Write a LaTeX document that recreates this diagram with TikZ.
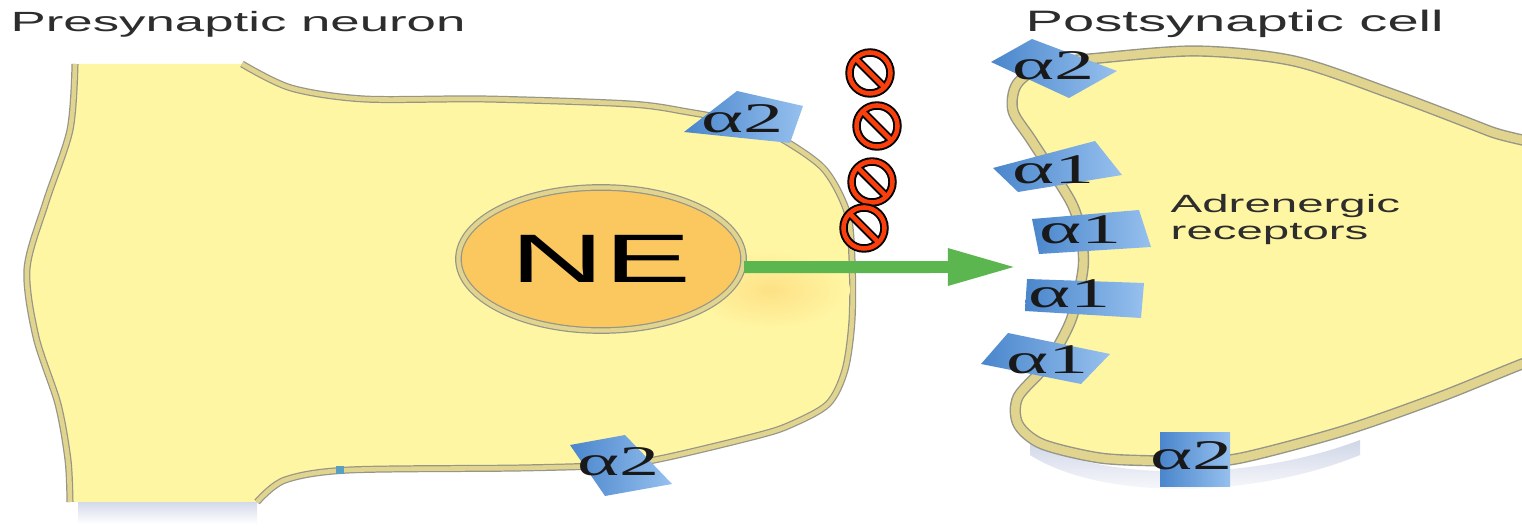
\documentclass[tikz,border=0pt]{standalone}
\usepackage{fontspec}
\setmainfont{Liberation Sans}
\newfontfamily\widesans[FakeStretch=1.9]{Liberation Sans}
\newfontfamily\wideserif[FakeStretch=1.9]{Liberation Serif}
\usetikzlibrary{arrows.meta, shapes.geometric}

\definecolor{cellyellow}{RGB}{255,246,164}
\definecolor{memtan}{RGB}{224,212,142}
\definecolor{memgray}{RGB}{150,150,136}
\definecolor{nefill}{RGB}{251,200,96}
\definecolor{rcpdark}{RGB}{74,134,204}
\definecolor{rcplight}{RGB}{150,192,238}
\definecolor{sigred}{RGB}{250,62,12}
\definecolor{ngreen}{RGB}{92,182,80}
\definecolor{labelgray}{RGB}{45,45,45}
\definecolor{shadowblue}{RGB}{208,214,232}
\definecolor{tealmark}{RGB}{90,160,190}

\tikzset{
  premem/.style={draw=memgray, line width=0.35pt, double=memtan, double distance=1.3pt},
  postmem/.style={draw=memgray, line width=0.4pt, double=memtan, double distance=2.4pt},
  receptor/.style={left color=rcpdark, right color=rcplight},
  rlabel/.style={font=\wideserif\fontsize{12}{12}\selectfont, text=black!90, inner sep=0pt},
  celllabel/.style={font=\widesans\fontsize{7.9}{9}\selectfont, text=labelgray, inner sep=0pt},
  synarrow/.style={ngreen, line width=3.4pt, -{Triangle[length=0.69cm, width=0.34cm]}}
}

% no-entry sign centred at #1,#2
\newcommand{\nosign}[2]{%
  \begin{scope}[shift={(#1,#2)}]
    \draw[black, line width=2.4pt] (0,0) circle (20.5);
    \begin{scope}
      \clip (0,0) circle (20.5);
      \draw[black, line width=2.4pt] (-20,-20) -- (20,20);
    \end{scope}
    \draw[sigred, line width=1.3pt] (0,0) circle (20.5);
    \begin{scope}
      \clip (0,0) circle (20);
      \draw[sigred, line width=1.3pt] (-20,-20) -- (20,20);
    \end{scope}
  \end{scope}}

\begin{document}
\begin{tikzpicture}[x=0.01cm, y=-0.01cm]
    \useasboundingbox (0,0) rectangle (1522,528);
    \clip (0,0) rectangle (1522,528);
    \fill[white] (0,0) rectangle (1522,528);

    % shadows under the cells
    \shade[top color=shadowblue, bottom color=white] (78,500) rectangle (257,524);
    \shade[top color=shadowblue, bottom color=white] (1030,440) .. controls (1100,482) and (1250,482) .. (1360,440)
        -- (1360,455) .. controls (1250,500) and (1100,500) .. (1030,455) -- cycle;

    % presynaptic neuron
    \fill[cellyellow] plot[smooth] coordinates {(70,502) (68,460) (58,404) (36,337) (27,269) (46,202) (70,130) (75,64)}
        -- plot[smooth] coordinates {(242,64) (291,88) (364,99) (485,99) (630,104) (688,112) (740,122) (775,135) (823,168) (847,212) (852,260) (852,320) (845,370) (828,404) (790,425) (756,436) (664,458) (616,465) (520,468) (349,470) (285,480) (257,502)}
        -- cycle;
    \draw[premem] plot[smooth] coordinates {(70,502) (68,460) (58,404) (36,337) (27,269) (46,202) (70,130) (75,64)};
    \draw[premem] plot[smooth] coordinates {(242,64) (291,88) (364,99) (485,99) (630,104) (688,112) (740,122) (775,135) (823,168) (847,212) (852,260) (852,320) (845,370) (828,404) (790,425) (756,436) (664,458) (616,465) (520,468) (349,470) (285,480) (257,502)};
    \fill[tealmark] (336,466) rectangle (344,474);

    % glow round the vesicle
    \shade[inner color=nefill!45!cellyellow, outer color=cellyellow] (770,290) ellipse (80 and 40);

    % NE vesicle
    \node[ellipse, fill=nefill, minimum width=2.85cm, minimum height=1.43cm, inner sep=0pt,
          draw=memgray, line width=.35pt, double=memtan, double distance=1.2pt,
          font=\widesans\fontsize{19.5}{20}\selectfont] (ne) at (601,259) {NE};

    % postsynaptic cell
    \draw[postmem, fill=cellyellow] plot[smooth cycle] coordinates {(1100,58) (1197,51) (1294,61) (1392,94) (1489,131) (1600,175)
        (1600,335) (1522,364) (1440,397) (1343,431) (1241,458) (1192,462) (1158,461) (1100,458) (1042,444) (1018,424)
        (1018,397) (1047,364) (1071,320) (1083,269) (1081,236) (1071,202) (1032,141) (1013,111) (1017,84) (1045,65)};

    % receptors on the presynaptic membrane
    \shade[receptor] (737,91) -- (803,106) -- (790,143) -- (684,132) -- cycle;
    \shade[receptor] (570,445) -- (625,435) -- (672,484) -- (605,496) -- cycle;
    \node[rlabel] (prea2top) at (743,119) {α2};
    \node[rlabel] (prea2bot) at (619,462) {α2};

    % receptors on the postsynaptic membrane
    \shade[receptor] (991,62) -- (1032,39) -- (1117,71) -- (1069,98) -- cycle;
    \shade[receptor] (993,168) -- (1095,141) -- (1122,175) -- (1018,192) -- cycle;
    \shade[receptor] (1032,219) -- (1139,210) -- (1151,247) -- (1039,254) -- cycle;
    \shade[receptor] (1027,279) -- (1144,283) -- (1141,318) -- (1025,311) -- cycle;
    \shade[receptor] (981,364) -- (1008,333) -- (1110,354) -- (1081,384) -- cycle;
    \shade[receptor] (1160,433) rectangle (1230,487);
    \node[rlabel] (posta2top) at (1054,66) {α2};
    \node[rlabel] (posta1a) at (1054,170) {α1};
    \node[rlabel] (posta1b) at (1081,230) {α1};
    \node[rlabel] (posta1c) at (1070,294) {α1};
    \node[rlabel] (posta1d) at (1048,360) {α1};
    \node[rlabel] (posta2bot) at (1192,456) {α2};

    % NE released towards the receptors
    \coordinate (gap) at (1017,267);
    \draw[synarrow] ([yshift=-2.3pt]ne.east) -- (gap);

    % blocked release
    \foreach \x/\y in {870/73, 877/126, 872/182, 864/228}
        \nosign{\x}{\y};

    % labels
    \node[celllabel, anchor=base west] (prelabel) at (10,32) {Presynaptic neuron};
    \node[celllabel, font=\widesans\fontsize{8.4}{9}\selectfont, anchor=base west] (postlabel) at (1025,32) {Postsynaptic cell};
    \node[celllabel, font=\widesans\fontsize{7.1}{7.7}\selectfont, anchor=base west, align=left] (adrlabel) at (1170,240) {Adrenergic\\receptors};
\end{tikzpicture}
\end{document}
